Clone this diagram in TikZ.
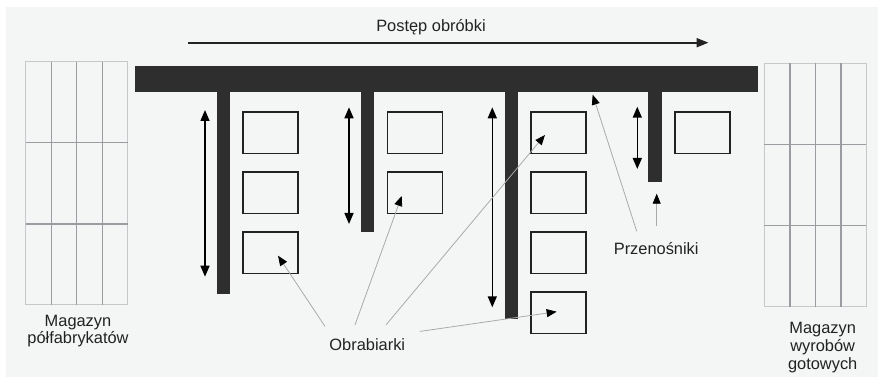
\documentclass[tikz,border=0pt]{standalone}
\usepackage{fontspec}
\setmainfont{Liberation Sans}
\usetikzlibrary{arrows.meta,calc}

\definecolor{panel}{RGB}{244,245,245}
\definecolor{belt}{RGB}{46,46,46}
\definecolor{ink}{RGB}{34,34,34}
\definecolor{shelf}{RGB}{155,155,162}
\definecolor{shelfrim}{RGB}{200,200,204}
\definecolor{pointer}{RGB}{170,170,170}

\begin{document}
\begin{tikzpicture}[x=1pt,y=-1pt,
  beltbox/.style={fill=belt,draw=none,inner sep=0pt,anchor=north},
  machine/.style={draw=ink,line width=1.7pt,inner sep=0pt,minimum width=55pt,minimum height=41.8pt},
  travel/.style={draw=black,line width=1.5pt,{Triangle[length=11pt,width=9pt]}-{Triangle[length=11pt,width=9pt]}},
  pointer/.style={draw=pointer,line width=0.8pt,-{Triangle[length=10pt,width=8pt,color=black]}},
  label/.style={font=\fontsize{16.4}{17.5}\selectfont,text=ink,inner sep=0pt,align=center}]

\useasboundingbox (0,0) rectangle (878,379);
\fill[white] (0,0) rectangle (878,379);
\fill[panel] (6,7) rectangle (878,377);

% progress arrow
\node[label,anchor=base] (prog) at (431,31.5) {Postęp obróbki};
\coordinate (progA) at (188,42.7);
\coordinate (progB) at (708.5,42.7);
\draw[ink,line width=1.8pt,-{Triangle[length=12pt,width=9pt]}] (progA) -- (progB);

% stores
\foreach \x/\y in {25.7/61.7,764.3/63.3}{
  \begin{scope}[shift={(\x,\y)}]
    \draw[shelfrim,line width=1pt] (0,0) rectangle (102,243.3);
    \foreach \i in {1,2,3}
      \draw[shelf,line width=1.4pt] (25.5*\i,0) -- (25.5*\i,243.3);
    \foreach \j in {1,2}
      \draw[shelf,line width=1.4pt] (0,81.1*\j) -- (102,81.1*\j);
  \end{scope}
}
\node[label,anchor=north,font=\fontsize{16.4}{16.8}\selectfont] (storeL) at (78,315.5) {Magazyn\\półfabrykatów};
\node[label,anchor=north,font=\fontsize{16.4}{18.3}\selectfont] (storeR) at (822.7,321.7) {Magazyn\\wyrobów\\gotowych};

% conveyors
\node[beltbox,anchor=north west,minimum width=622.7pt,minimum height=25.7pt] (bar) at (135,66) {};
\foreach \n/\x/\w/\h in {c1/223.35/13.3/204, c2/367.35/13.3/142.3, c3/511.35/12.7/228.3, c4/655/13.4/91.7}
  \node[beltbox,minimum width=\w pt,minimum height=\h pt] (\n) at (\x,90) {};

% travel of the conveyors
\foreach \x/\ya/\yb in {205/110/276.7, 349/107.3/224, 492.3/107.3/307.3, 637.3/106.7/169}
  \draw[travel] (\x,\ya) -- (\x,\yb);

% machines
\foreach \c/\x/\rows in {1/270.65/3, 2/415/2, 3/558.65/4, 4/702.5/1}
  \foreach \r in {1,...,\rows}
    \node[machine] (m\c\r) at (\x,{132.7+60*(\r-1)}) {};

% labels + pointers
\node[label,anchor=base] (obr) at (367.3,350) {Obrabiarki};
\node[label,anchor=base] (prz) at (656.2,254.5) {Przenośniki};

\draw[pointer] ($(obr.north)+(-42.3,-11.5)$) -- ($(m13)+(7.4,3)$);
\draw[pointer] ($(obr.north)+(-12.3,-13)$) -- ($(m22)+(-13.3,3.3)$);
\draw[pointer] ($(obr.north)+(18.7,-13)$) -- ($(m31)+(-13.7,2.3)$);
\draw[pointer] ($(obr.north)+(52.7,-6.5)$) -- ($(m34)+(-2,-1)$);

\draw[pointer] ($(prz.north)+(-19.5,-11)$) -- ($(bar.south west)+(457.7,2.6)$);
\draw[pointer] ($(prz.north)+(0.5,-16)$) -- ($(c4.south)+(1.7,11.6)$);

\end{tikzpicture}
\end{document}
